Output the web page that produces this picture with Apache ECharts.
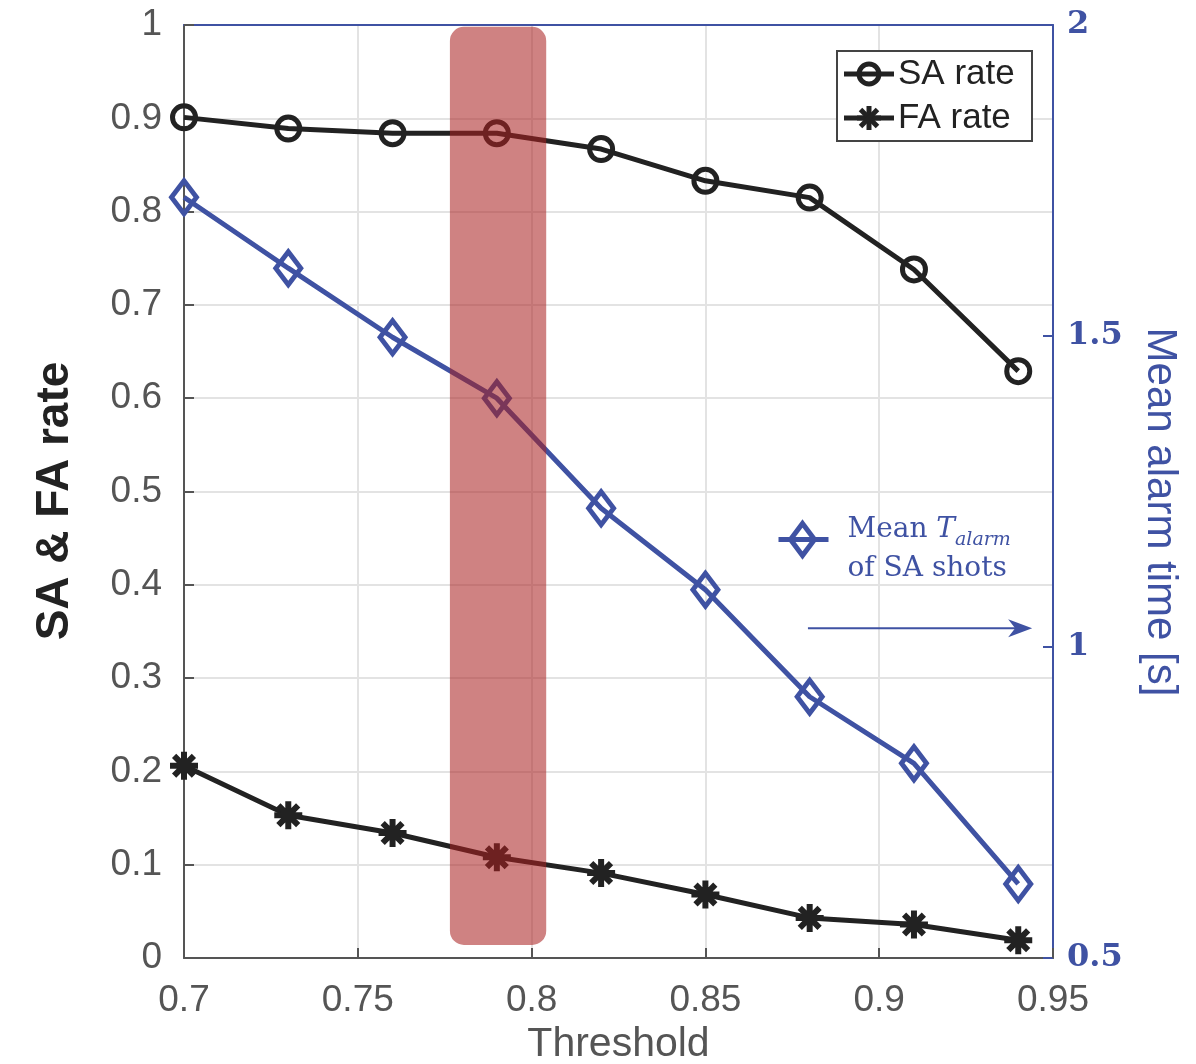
<!DOCTYPE html>
<html>
<head>
<meta charset="utf-8">
<script src="https://cdn.jsdelivr.net/npm/echarts@6/dist/echarts.min.js"></script>
<style>
html,body{margin:0;padding:0;background:#fff;}
#main{width:1196px;height:1064px;}
</style>
</head>
<body>
<div id="main"></div>
<script>
// ---- data ----
const thresholds = [0.70, 0.73, 0.76, 0.79, 0.82, 0.85, 0.88, 0.91, 0.94];
const saRate     = [0.901, 0.889, 0.884, 0.884, 0.867, 0.833, 0.815, 0.738, 0.629];
const faRate     = [0.206, 0.153, 0.134, 0.108, 0.091, 0.068, 0.043, 0.036, 0.019];
const meanAlarm  = [1.723, 1.609, 1.498, 1.400, 1.223, 1.092, 0.920, 0.813, 0.619];
const highlightX = [0.7765, 0.8042];
const highlightY = [0.014, 0.998];
const arrowFrom  = [0.8795, 1.03];
const arrowTo    = [0.944, 1.03];
const seriesNames = ['SA rate', 'FA rate'];

const BLUE = '#3f52a3';
const DARK = '#222222';
const GRAY = '#555555';
const GRID = '#e3e3e3';

const chart = echarts.init(document.getElementById('main'));

const asterisk = 'path://M0,-10L0,10M-10,0L10,0M-7.07,-7.07L7.07,7.07M-7.07,7.07L7.07,-7.07';

const option = {
  backgroundColor: '#fff',
  animation: false,
  grid: {left: 184, right: 143, top: 25, bottom: 106, containLabel: false, outerBoundsMode: 'none'},
  xAxis: [{
    type: 'value', min: 0.7, max: 0.95, interval: 0.05,
    name: 'Threshold', nameLocation: 'middle', nameGap: 66,
    nameTextStyle: {fontFamily: 'Liberation Sans', fontSize: 41, color: GRAY},
    axisLine: {lineStyle: {color: GRAY, width: 2}},
    axisTick: {inside: true, length: 10, lineStyle: {color: GRAY, width: 2}},
    axisLabel: {fontFamily: 'Liberation Sans', fontSize: 37, color: GRAY, margin: 24,
      formatter: v => String(+v.toFixed(2))},
    splitLine: {show: true, lineStyle: {color: GRID, width: 2}}
  }, {
    type: 'value', min: 0.7, max: 0.95, interval: 0.05, position: 'top',
    axisLine: {show: true, lineStyle: {color: BLUE, width: 2}},
    axisTick: {show: false}, axisLabel: {show: false}, splitLine: {show: false}
  }],
  yAxis: [{
    type: 'value', min: 0, max: 1, interval: 0.1, position: 'left',
    axisLine: {show: true, lineStyle: {color: GRAY, width: 2}},
    axisTick: {show: true, inside: true, length: 10, lineStyle: {color: GRAY, width: 2}},
    axisLabel: {fontFamily: 'Liberation Sans', fontSize: 37, color: GRAY, margin: 22,
      formatter: v => String(+v.toFixed(1))},
    splitLine: {show: true, lineStyle: {color: GRID, width: 2}}
  }, {
    type: 'value', min: 0.5, max: 2, interval: 0.5, position: 'right',
    axisLine: {show: true, lineStyle: {color: BLUE, width: 2}},
    axisTick: {show: true, inside: true, length: 10, lineStyle: {color: BLUE, width: 2}},
    axisLabel: {fontFamily: 'DejaVu Serif', fontSize: 32, fontWeight: 'bold', color: BLUE, margin: 14,
      formatter: v => String(+v.toFixed(1))},
    splitLine: {show: false}
  }],
  series: [{
    name: seriesNames[0], type: 'line', xAxisIndex: 0, yAxisIndex: 0,
    data: thresholds.map((t, i) => [t, saRate[i]]),
    symbol: 'circle', symbolSize: 23,
    lineStyle: {color: DARK, width: 5},
    itemStyle: {color: 'rgba(0,0,0,0)', borderColor: DARK, borderWidth: 5},
    z: 3
  }, {
    name: seriesNames[1], type: 'line', xAxisIndex: 0, yAxisIndex: 0,
    data: thresholds.map((t, i) => [t, faRate[i]]),
    symbol: asterisk, symbolSize: 28, symbolKeepAspect: true,
    lineStyle: {color: DARK, width: 5},
    itemStyle: {color: DARK, borderColor: DARK, borderWidth: 6},
    z: 3
  }, {
    name: 'Mean T_alarm of SA shots', type: 'line', xAxisIndex: 0, yAxisIndex: 1,
    data: thresholds.map((t, i) => [t, meanAlarm[i]]),
    symbol: 'diamond', symbolSize: [25, 33],
    lineStyle: {color: BLUE, width: 5},
    itemStyle: {color: 'rgba(0,0,0,0)', borderColor: BLUE, borderWidth: 5},
    z: 3
  }]
};

chart.setOption(option);

const px = (pt, yi) => chart.convertToPixel({xAxisIndex: 0, yAxisIndex: yi}, pt);
const r1 = px([highlightX[0], highlightY[1]], 0);
const r2 = px([highlightX[1], highlightY[0]], 0);
const a1 = px(arrowFrom, 1);
const a2 = px(arrowTo, 1);

function asteriskLines(cx, cy, r) {
  const out = [];
  for (let k = 0; k < 4; k++) {
    const ang = k * Math.PI / 4;
    out.push({type: 'line', shape: {x1: cx - r * Math.cos(ang), y1: cy - r * Math.sin(ang),
      x2: cx + r * Math.cos(ang), y2: cy + r * Math.sin(ang)}, style: {stroke: DARK, lineWidth: 5}});
  }
  return out;
}

const legendFont = {fontFamily: 'Liberation Sans', fontSize: 35, fill: DARK, verticalAlign: 'middle', align: 'left'};

chart.setOption({
  graphic: [
    {
      type: 'rect', z: 100,
      shape: {x: r1[0], y: r1[1], width: r2[0] - r1[0], height: r2[1] - r1[1], r: 14},
      style: {fill: 'rgba(169,32,32,0.56)'}
    },
    {
      type: 'line', z: 100,
      shape: {x1: a1[0], y1: a1[1], x2: a2[0] - 6, y2: a2[1]},
      style: {stroke: BLUE, lineWidth: 2}
    },
    {
      type: 'polygon', z: 100,
      shape: {points: [[a2[0], a2[1]], [a2[0] - 24, a2[1] - 9], [a2[0] - 17, a2[1]], [a2[0] - 24, a2[1] + 9]]},
      style: {fill: BLUE}
    },
    // legend box
    {
      type: 'group', left: 836, top: 50, z: 110,
      children: [
        {type: 'rect', shape: {x: 0, y: 0, width: 195, height: 90}, style: {fill: '#fff', stroke: '#444', lineWidth: 2}},
        {type: 'line', shape: {x1: 7, y1: 23, x2: 57, y2: 23}, style: {stroke: DARK, lineWidth: 5}},
        {type: 'circle', shape: {cx: 32, cy: 23, r: 10}, style: {fill: 'none', stroke: DARK, lineWidth: 5}},
        {type: 'text', x: 61, y: 23, style: Object.assign({text: 'SA rate'}, legendFont)},
        {type: 'line', shape: {x1: 7, y1: 67, x2: 57, y2: 67}, style: {stroke: DARK, lineWidth: 5}},
        ...asteriskLines(32, 67, 12),
        {type: 'text', x: 61, y: 67, style: Object.assign({text: 'FA rate'}, legendFont)}
      ]
    },
    // blue series legend
    {
      type: 'group', left: 776, top: 516, z: 100,
      children: [
        {type: 'line', shape: {x1: 0, y1: 25, x2: 50, y2: 25}, style: {stroke: BLUE, lineWidth: 5}},
        {type: 'polygon', shape: {points: [[24, 9], [36, 25], [24, 41], [12, 25]]},
          style: {fill: 'none', stroke: BLUE, lineWidth: 5}},
        {type: 'text', x: 69, y: -4,
          style: {
            text: '{n|Mean }{it|T}{sub|alarm}\n{n|of SA shots}',
            rich: {
              n: {fontFamily: 'DejaVu Serif', fontSize: 28, fill: BLUE, lineHeight: 39},
              it: {fontFamily: 'DejaVu Serif', fontStyle: 'italic', fontSize: 28, fill: BLUE, lineHeight: 39},
              sub: {fontFamily: 'DejaVu Serif', fontStyle: 'italic', fontSize: 19, fill: BLUE, lineHeight: 39, verticalAlign: 'bottom'}
            }
          }
        }
      ]
    },
    // axis titles
    {
      type: 'text', z: 100, x: 55, y: 501, rotation: Math.PI / 2,
      style: {text: 'SA & FA rate', fontFamily: 'Liberation Sans', fontSize: 46, fontWeight: 'bold',
        fill: DARK, align: 'center', verticalAlign: 'middle'}
    },
    {
      type: 'text', z: 100, x: 1160, y: 512, rotation: -Math.PI / 2,
      style: {text: 'Mean alarm time [s]', fontFamily: 'Liberation Sans', fontSize: 42,
        fill: BLUE, align: 'center', verticalAlign: 'middle'}
    }
  ]
});
</script>
</body>
</html>
